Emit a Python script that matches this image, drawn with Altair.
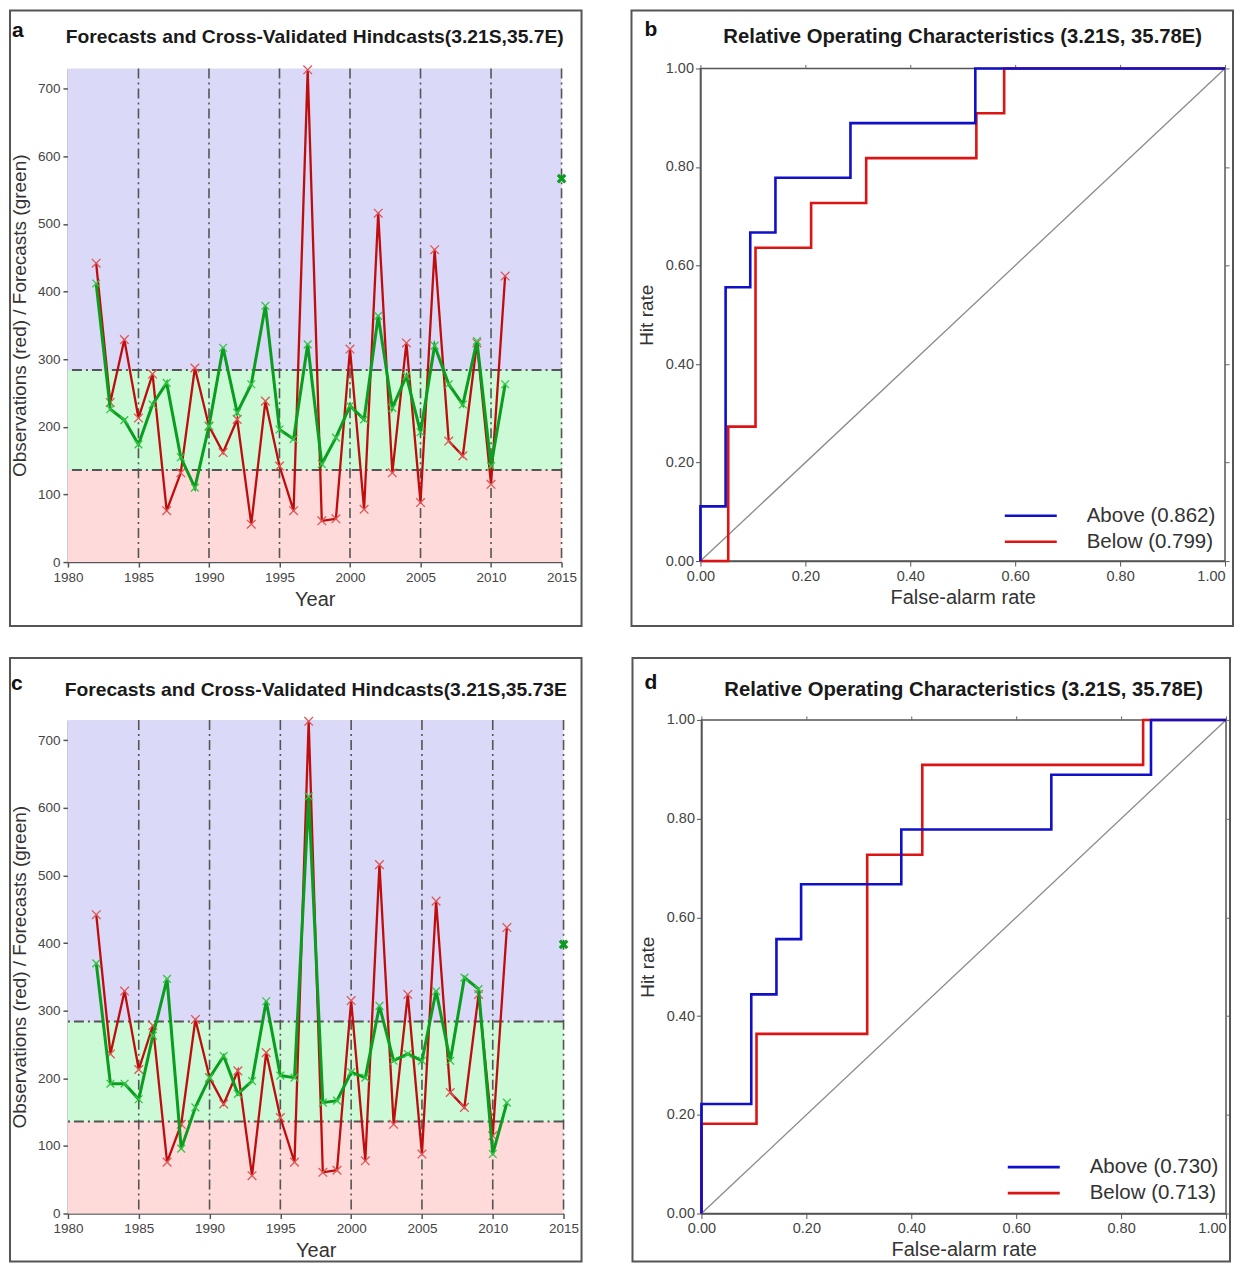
import altair as alt
import pandas as pd

# ---------------- data ----------------
years = list(range(1982, 2012))
obs = [442, 236, 329, 213, 278, 76, 132, 287, 201, 162, 211, 56, 238, 142, 76,
       728, 61, 64, 315, 78, 516, 132, 324, 88, 462, 179, 157, 324, 115, 423]
fc_a = [412, 226, 210, 174, 233, 265, 155, 110, 201, 317, 221, 263, 379, 196, 182,
        322, 145, 184, 231, 211, 364, 228, 275, 192, 320, 263, 233, 327, 142, 263]
fc_c = [370, 192, 192, 169, 263, 347, 96, 157, 201, 233, 177, 196, 314, 204, 201,
        617, 164, 167, 209, 201, 307, 226, 236, 226, 329, 226, 349, 332, 88, 164]
next_year = [2015]
fc_next_a = [567]
fc_next_c = [398]

band_names = ["Below normal", "Near normal", "Above normal"]
band_lo = [0, 136, 284]
band_hi = [136, 284, 730]
thresholds = [136, 284]
x_range = [1980, 2015]
x_ticks = [1980, 1985, 1990, 1995, 2000, 2005, 2010, 2015]
grid_years = [1985, 1990, 1995, 2000, 2005, 2010, 2015]
y_ticks = [0, 100, 200, 300, 400, 500, 600, 700]

# ROC curves (vertices, drawn as steps)
b_above_far = [0.0, 0.0, 0.048, 0.095, 0.143, 0.286, 0.524, 1.0]
b_above_hr = [0.0, 0.111, 0.556, 0.667, 0.778, 0.889, 1.0, 1.0]
b_below_far = [0.0, 0.053, 0.105, 0.211, 0.316, 0.526, 0.579, 1.0]
b_below_hr = [0.0, 0.273, 0.636, 0.727, 0.818, 0.909, 1.0, 1.0]
d_above_far = [0.0, 0.0, 0.095, 0.143, 0.190, 0.381, 0.667, 0.857, 1.0]
d_above_hr = [0.0, 0.222, 0.444, 0.556, 0.667, 0.778, 0.889, 1.0, 1.0]
d_below_far = [0.0, 0.0, 0.105, 0.316, 0.421, 0.842, 1.0]
d_below_hr = [0.0, 0.182, 0.364, 0.727, 0.909, 1.0, 1.0]
diag = [0.0, 1.0]
roc_ticks = [0.0, 0.2, 0.4, 0.6, 0.8, 1.0]

FONT = "Liberation Sans"
XPATH = "M-1,-1L1,1M1,-1L-1,1"
ONE = pd.DataFrame({"k": [0]})


def annotations(letter, title, title_size, W, H, box, letter_xy, title_y):
    left, top, right, bottom = box
    frame = alt.Chart(ONE).mark_rect(
        fillOpacity=0, stroke="#555555", strokeWidth=2, clip=False
    ).encode(x=alt.value(left), x2=alt.value(W + right),
             y=alt.value(top), y2=alt.value(H + bottom))
    let = alt.Chart(ONE).mark_text(
        text=letter, fontSize=21, fontWeight="bold", color="#111111",
        align="left", baseline="alphabetic", font=FONT
    ).encode(x=alt.value(letter_xy[0]), y=alt.value(letter_xy[1]))
    ttl = alt.Chart(ONE).mark_text(
        text=title, fontSize=title_size, fontWeight="bold", color="#1a1a1a",
        align="center", baseline="alphabetic", font=FONT
    ).encode(x=alt.value(W / 2), y=alt.value(title_y))
    return [frame, let, ttl]


def ts_panel(letter, title, fc, fc_next, W, H, box, letter_xy, title_y):
    xs = alt.Scale(domain=x_range, nice=False, zero=False)
    ys = alt.Scale(domain=[0, band_hi[-1]], nice=False)
    xax = alt.Axis(values=x_ticks, format="d", title="Year", grid=False,
                   labelFontSize=13.5, labelColor="#444444", labelFlush=False,
                   titleFontSize=20, titleFontWeight="normal", titleColor="#333333",
                   titlePadding=6, tickSize=5, tickColor="#555555", tickWidth=1.5,
                   domainColor="#555555", domainWidth=1.5, labelPadding=3)
    yax = alt.Axis(values=y_ticks, format="d",
                   title="Observations (red) / Forecasts (green)", grid=False,
                   labelFontSize=13.5, labelColor="#444444",
                   titleFontSize=19, titleFontWeight="normal", titleColor="#333333",
                   titlePadding=8, tickSize=5, tickColor="#555555", tickWidth=1.5,
                   domainColor="#555555", domainWidth=1.5, labelPadding=3)
    X = alt.X("year:Q", scale=xs, axis=xax)
    Y = alt.Y("value:Q", scale=ys, axis=yax)

    bands = pd.DataFrame({"year": [x_range[0]] * 3, "year2": [x_range[1]] * 3,
                          "value": band_lo, "value2": band_hi, "cat": band_names})
    band_layer = alt.Chart(bands).mark_rect().encode(
        x=X, x2="year2:Q", y=Y, y2="value2:Q",
        color=alt.Color("cat:N", scale=alt.Scale(domain=band_names,
                        range=["#ffdada", "#ccf9d6", "#dadaf8"]), legend=None))
    vgrid = alt.Chart(pd.DataFrame({"year": grid_years})).mark_rule(
        color="#555555", strokeWidth=1.6, strokeDash=[10, 4, 2, 4]).encode(x=X)
    hthr = alt.Chart(pd.DataFrame({"value": thresholds})).mark_rule(
        color="#555555", strokeWidth=2, strokeDash=[10, 4, 2, 4]).encode(y=Y)

    dobs = pd.DataFrame({"year": years, "value": obs})
    dfc = pd.DataFrame({"year": years, "value": fc})
    dnext = pd.DataFrame({"year": next_year, "value": fc_next})
    obs_line = alt.Chart(dobs).mark_line(color="#bf0d0d", strokeWidth=2.3).encode(x=X, y=Y)
    obs_pts = alt.Chart(dobs).mark_point(shape=XPATH, size=75, filled=False, opacity=1,
                                         color="#e05555", strokeWidth=1.3).encode(x=X, y=Y)
    fc_line = alt.Chart(dfc).mark_line(color="#0a9e1e", strokeWidth=3).encode(x=X, y=Y)
    fc_pts = alt.Chart(dfc).mark_point(shape=XPATH, size=60, filled=False, opacity=1,
                                       color="#35c445", strokeWidth=1.3).encode(x=X, y=Y)
    nxt = alt.Chart(dnext).mark_point(shape=XPATH, size=55, filled=False, opacity=1,
                                      color="#0a9e1e", strokeWidth=3.2, clip=False).encode(x=X, y=Y)

    layers = [band_layer, vgrid, hthr, obs_line, obs_pts, fc_line, fc_pts, nxt]
    layers += annotations(letter, title, 19.3, W, H, box, letter_xy, title_y)
    return alt.layer(*layers).properties(width=W, height=H)


def roc_panel(letter, title, a_far, a_hr, b_far, b_hr, a_lab, b_lab, W, H, box,
              letter_xy, title_y, legend_xy):
    sc = alt.Scale(domain=[0, 1], nice=False)
    xax = alt.Axis(values=roc_ticks, format=".2f", title="False-alarm rate", grid=False,
                   labelFontSize=14.5, labelColor="#444444", labelFlush=False,
                   labelAlign={"condition": {"test": "datum.value >= 1", "value": "right"},
                               "value": "center"},
                   titleFontSize=20, titleFontWeight="normal", titleColor="#333333",
                   titlePadding=5, tickSize=5, tickColor="#555555",
                   domainColor="#555555", domainWidth=1.5, labelPadding=3)
    yax = alt.Axis(values=roc_ticks, format=".2f", title="Hit rate", grid=False,
                   labelFontSize=14.5, labelColor="#444444", labelFlush=False,
                   titleFontSize=19, titleFontWeight="normal", titleColor="#333333",
                   titlePadding=9, tickSize=5, tickColor="#555555",
                   domainColor="#555555", domainWidth=1.5, labelPadding=2)
    X = alt.X("far:Q", scale=sc, axis=xax)
    Y = alt.Y("hr:Q", scale=sc, axis=yax)

    dd = pd.DataFrame({"far": diag, "hr": diag})
    diag_layer = alt.Chart(dd).mark_line(color="#8a8a8a", strokeWidth=1.3).encode(x=X, y=Y)

    # top / right tick marks (no labels)
    xt = alt.X("far:Q", scale=sc, axis=alt.Axis(orient="top", values=roc_ticks, labels=False,
                                                title=None, domain=False, grid=False,
                                                tickSize=4, tickColor="#666666"))
    yr = alt.Y("hr:Q", scale=sc, axis=alt.Axis(orient="right", values=roc_ticks, labels=False,
                                               title=None, domain=False, grid=False,
                                               tickSize=4, tickColor="#666666"))
    tick_layer = alt.Chart(dd).mark_point(opacity=0, size=1).encode(x=xt, y=yr)

    rows = []
    for i, (f, h) in enumerate(zip(b_far, b_hr)):
        rows.append({"far": f, "hr": h, "series": b_lab, "i": i})
    for i, (f, h) in enumerate(zip(a_far, a_hr)):
        rows.append({"far": f, "hr": h, "series": a_lab, "i": i})
    droc = pd.DataFrame(rows)
    roc = alt.Chart(droc).mark_line(interpolate="step-after", strokeWidth=2.6, clip=False).encode(
        x=X, y=Y, order="i:Q",
        color=alt.Color("series:N",
                        scale=alt.Scale(domain=[a_lab, b_lab], range=["#1010c8", "#dd1414"]),
                        legend=alt.Legend(title=None, orient="none",
                                          legendX=legend_xy[0], legendY=legend_xy[1],
                                          symbolType="M-2.5,0H2.5", symbolSize=433,
                                          symbolStrokeWidth=2.6, labelFontSize=20.5,
                                          labelColor="#333333", labelFont=FONT,
                                          labelOffset=44, rowPadding=3, padding=0)))
    main = alt.layer(diag_layer, roc, *annotations(letter, title, 20.3, W, H, box,
                                                    letter_xy, title_y))
    return alt.layer(main, tick_layer).resolve_axis(x="independent", y="independent").properties(
        width=W, height=H,
        view=alt.ViewBackground(stroke="#555555", strokeWidth=1.5))


pa = ts_panel("a", "Forecasts and Cross-Validated Hindcasts(3.21S,35.7E)", fc_a, fc_next_a,
              494, 494, (-58, -58, 20, 64), (-56, -31), -25)
pb = roc_panel("b", "Relative Operating Characteristics (3.21S, 35.78E)",
               b_above_far, b_above_hr, b_below_far, b_below_hr,
               "Above (0.862)", "Below (0.799)", 525, 493, (-69, -58, 8, 65),
               (-56, -32), -25, (318.6, 435.6))
pc = ts_panel("c", "Forecasts and Cross-Validated Hindcasts(3.21S,35.73E", fc_c, fc_next_c,
              496, 494, (-58, -62, 18, 48), (-57, -30), -24)
pd_ = roc_panel("d", "Relative Operating Characteristics (3.21S, 35.78E)",
                d_above_far, d_above_hr, d_below_far, d_below_hr,
                "Above (0.730)", "Below (0.713)", 525, 494, (-69, -62, 4, 48),
                (-57, -31), -24, (320.6, 435.6))

row1 = alt.hconcat(pa, pb, spacing=46).resolve_scale(color="independent")
row2 = alt.hconcat(pc, pd_, spacing=47).resolve_scale(color="independent")
chart = alt.vconcat(row1, row2, spacing=28).resolve_scale(color="independent"
                    ).properties(padding=0
                    ).configure(font=FONT, padding=0).configure_view(stroke="transparent")

chart.save("out.html", embed_options={"renderer": "svg", "actions": False})
